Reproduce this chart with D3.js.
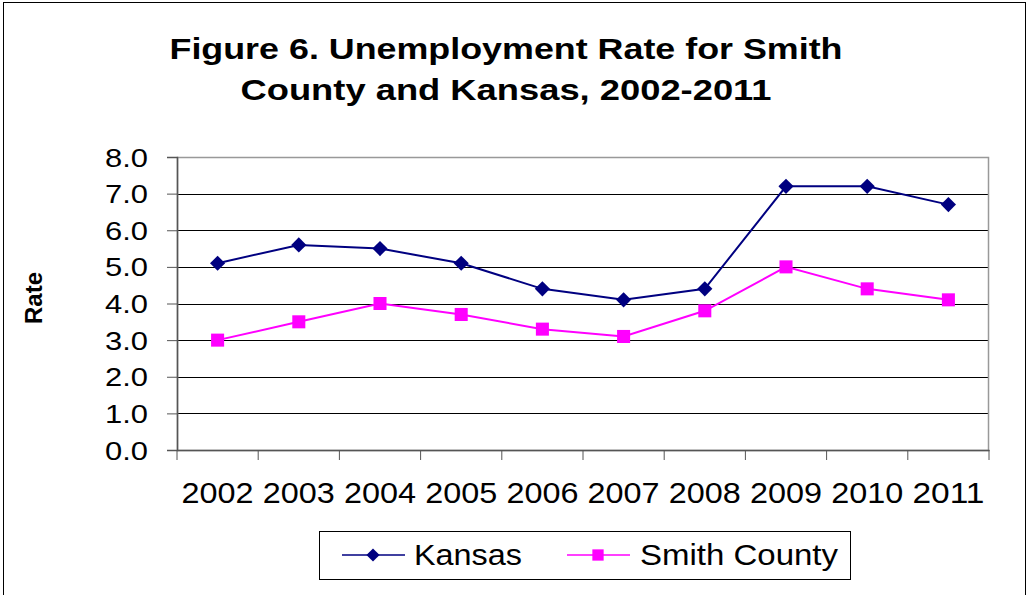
<!DOCTYPE html>
<html><head><meta charset="utf-8">
<script src="https://cdn.jsdelivr.net/npm/d3@7"></script>
<style>body{margin:0;background:#fff;}svg{display:block;font-family:"Liberation Sans",Arial,sans-serif;}</style>
</head><body>
<svg id="c" width="1029" height="595"></svg>
<script>
const years = ["2002","2003","2004","2005","2006","2007","2008","2009","2010","2011"];
const kansas = [5.1,5.6,5.5,5.1,4.4,4.1,4.4,7.2,7.2,6.7];
const smith = [3.0,3.5,4.0,3.7,3.3,3.1,3.8,5.0,4.4,4.1];
const yTicks = [0,1,2,3,4,5,6,7,8];
const titleLines = ["Figure 6. Unemployment Rate for Smith","County and Kansas, 2002-2011"];

const svg = d3.select("#c");
svg.append("rect").attr("x",3.5).attr("y",2.5).attr("width",1022).attr("height",600).attr("fill","none").attr("stroke","#000").attr("stroke-width",1);

const L=177,R=989,T=157,B=450;
const x = d3.scaleBand().domain(years).range([L,R]);
const y = d3.scaleLinear().domain([0,8]).range([B,T]);

const titleW=[673,531];
svg.selectAll("text.title").data(titleLines).enter().append("text")
  .attr("x",506).attr("y",(d,i)=>59+i*41).attr("text-anchor","middle")
  .attr("font-size",30).attr("font-weight","bold")
  .attr("textLength",(d,i)=>titleW[i]).attr("lengthAdjust","spacingAndGlyphs").text(d=>d);

// gridlines
svg.append("g").selectAll("line").data(yTicks.filter(d=>d>0&&d<8)).enter().append("line")
  .attr("x1",L).attr("x2",R).attr("y1",d=>Math.round(y(d))+0.5).attr("y2",d=>Math.round(y(d))+0.5)
  .attr("stroke","#000").attr("stroke-width",1);
// frame
svg.append("rect").attr("x",L+0.5).attr("y",T+0.5).attr("width",R-L-1).attr("height",B-T).attr("fill","none").attr("stroke","#999").attr("stroke-width",1.5);

const yAxis = d3.axisLeft(y).tickValues(yTicks).tickSize(10).tickPadding(19).tickFormat(d3.format(".1f"));
const gy = svg.append("g").attr("transform",`translate(${L},0)`).call(yAxis);
gy.select(".domain").attr("stroke","#555").attr("stroke-width",1.5);
gy.selectAll(".tick line").attr("stroke","#555");
gy.selectAll("text").attr("font-size",25).attr("fill","#000").attr("font-family","Liberation Sans,Arial,sans-serif")
  .attr("dy","0.36em").attr("textLength",43).attr("lengthAdjust","spacingAndGlyphs");

const xAxis = d3.axisBottom(x).tickSize(0).tickPadding(32);
const gx = svg.append("g").attr("transform",`translate(0,${B})`).call(xAxis);
gx.select(".domain").attr("stroke","#555").attr("stroke-width",1.5);
gx.selectAll("text").attr("font-size",29).attr("fill","#000").attr("font-family","Liberation Sans,Arial,sans-serif")
  .attr("textLength",72).attr("lengthAdjust","spacingAndGlyphs");
// category boundary ticks
const bounds = years.map(d=>x(d)).concat([R]);
svg.append("g").selectAll("line").data(bounds).enter().append("line")
  .attr("x1",d=>d).attr("x2",d=>d).attr("y1",B).attr("y2",B+10).attr("stroke","#555").attr("stroke-width",1);

svg.append("text").attr("transform","translate(42,298) rotate(-90)").attr("text-anchor","middle")
  .attr("font-size",24).attr("font-weight","bold").text("Rate");

const cx = d=>x(d)+x.bandwidth()/2;
const line = d3.line().x((d,i)=>cx(years[i])).y(d=>y(d));
const series = [
  {name:"Kansas",vals:kansas,color:"#000080",sym:d3.symbolSquare,size:115,rot:45,tw:108},
  {name:"Smith County",vals:smith,color:"#FF00FF",sym:d3.symbolSquare,size:170,rot:0,tw:198}
];
series.forEach(s=>{
  svg.append("path").datum(s.vals).attr("d",line).attr("fill","none").attr("stroke",s.color).attr("stroke-width",2);
  svg.append("g").selectAll("path").data(s.vals).enter().append("path")
    .attr("d",d3.symbol().type(s.sym).size(s.size))
    .attr("transform",(d,i)=>`translate(${cx(years[i])},${y(d)}) rotate(${s.rot})`).attr("fill",s.color);
});

// legend
svg.append("rect").attr("x",319.5).attr("y",531.5).attr("width",531).attr("height",48).attr("fill","#fff").attr("stroke","#000").attr("stroke-width",1);
const lg = [{s:series[0],x:342,tx:414},{s:series[1],x:567,tx:640}];
lg.forEach(o=>{
  svg.append("line").attr("x1",o.x).attr("x2",o.x+63).attr("y1",555).attr("y2",555).attr("stroke",o.s.color).attr("stroke-width",1.5);
  svg.append("path").attr("d",d3.symbol().type(o.s.sym).size(o.s.size*0.75)).attr("transform",`translate(${o.x+31},555) rotate(${o.s.rot})`).attr("fill",o.s.color);
  svg.append("text").attr("x",o.tx).attr("y",565).attr("font-size",29).attr("textLength",o.s.tw).attr("lengthAdjust","spacingAndGlyphs").text(o.s.name);
});
</script>
</body></html>
